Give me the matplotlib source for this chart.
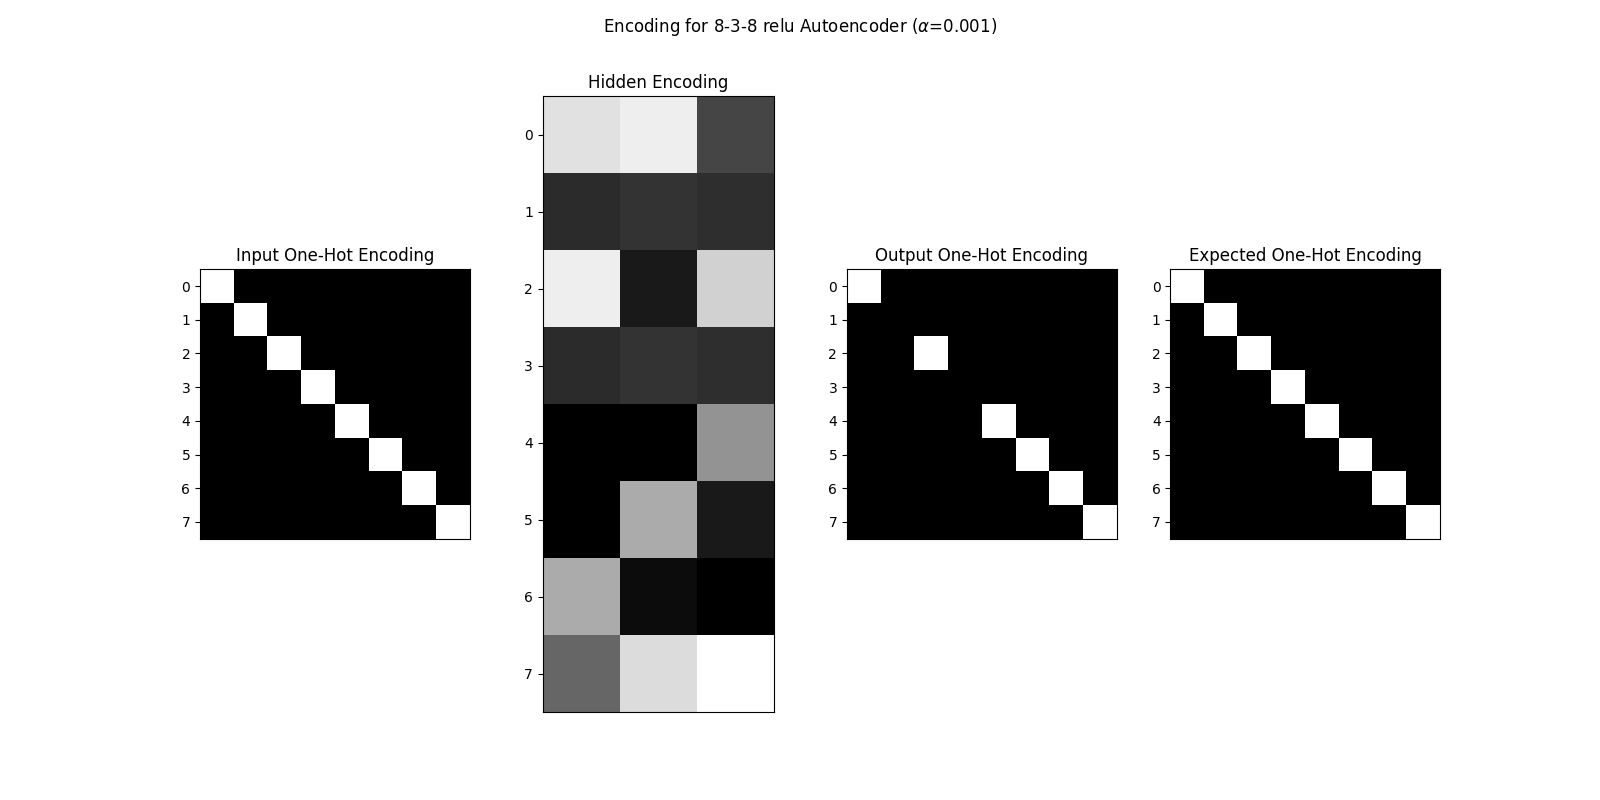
import numpy as np
import matplotlib
matplotlib.use("Agg")
import matplotlib.pyplot as plt

input_onehot = np.eye(8)
hidden = np.array([
    [0.88, 0.93, 0.27],
    [0.17, 0.20, 0.18],
    [0.93, 0.10, 0.82],
    [0.17, 0.20, 0.18],
    [0.00, 0.00, 0.58],
    [0.00, 0.67, 0.10],
    [0.67, 0.05, 0.00],
    [0.40, 0.86, 1.00],
])
output_onehot = np.zeros((8, 8))
for r, c in [(0, 0), (2, 2), (4, 4), (5, 5), (6, 6), (7, 7)]:
    output_onehot[r, c] = 1
expected_onehot = np.eye(8)

panels = [
    ("Input One-Hot Encoding", input_onehot),
    ("Hidden Encoding", hidden),
    ("Output One-Hot Encoding", output_onehot),
    ("Expected One-Hot Encoding", expected_onehot),
]

fig, axes = plt.subplots(1, 4, figsize=(16, 8), dpi=100)
for ax, (title, data) in zip(axes, panels):
    ax.imshow(data, cmap="gray", vmin=0, vmax=1)
    ax.set_title(title)
    ax.set_xticks([])
    ax.set_yticks(range(8))
fig.suptitle(r"Encoding for 8-3-8 relu Autoencoder ($\alpha$=0.001)")
fig.savefig("out.png")
